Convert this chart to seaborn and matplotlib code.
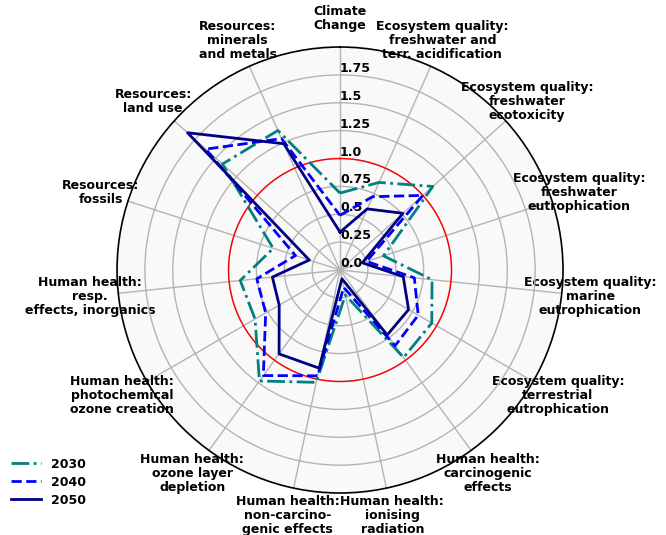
import numpy as np
import pandas as pd
import matplotlib
matplotlib.use("Agg")
import matplotlib.pyplot as plt
import seaborn as sns

# Impact categories, clockwise from the top
categories = [
    "Climate\nChange",
    "Ecosystem quality:\nfreshwater and\nterr. acidification",
    "Ecosystem quality:\nfreshwater\necotoxicity",
    "Ecosystem quality:\nfreshwater\neutrophication",
    "Ecosystem quality:\nmarine\neutrophication",
    "Ecosystem quality:\nterrestrial\neutrophication",
    "Human health:\ncarcinogenic\neffects",
    "Human health:\nionising\nradiation",
    "Human health:\nnon-carcino-\ngenic effects",
    "Human health:\nozone layer\ndepletion",
    "Human health:\nphotochemical\nozone creation",
    "Human health:\nresp.\neffects, inorganics",
    "Resources:\nfossils",
    "Resources:\nland use",
    "Resources:\nminerals\nand metals",
]

# Relative impact scores per scenario year
values_2030 = [0.69, 0.86, 1.12, 0.41, 0.83, 0.95, 0.97, 0.23, 1.03, 1.23, 0.88, 0.90, 0.63, 1.42, 1.37]
values_2040 = [0.49, 0.72, 1.00, 0.25, 0.67, 0.81, 0.84, 0.16, 0.97, 1.17, 0.77, 0.75, 0.42, 1.62, 1.29]
values_2050 = [0.34, 0.60, 0.76, 0.21, 0.57, 0.71, 0.72, 0.08, 0.90, 0.93, 0.63, 0.61, 0.29, 1.84, 1.24]

years = ["2030", "2040", "2050"]
series = {"2030": values_2030, "2040": values_2040, "2050": values_2050}

r_ticks = [0.0, 0.25, 0.5, 0.75, 1.0, 1.25, 1.5, 1.75]
r_tick_labels = ["0.0", "0.25", "0.5", "0.75", "1.0", "1.25", "1.5", "1.75"]
r_max = 2.0
reference_level = 1.0

palette = {"2030": "teal", "2040": "blue", "2050": "navy"}
dash_styles = {"2030": (6.4, 1.6, 1.0, 1.6), "2040": (3.7, 1.6), "2050": ""}

# Long-form table with each polygon closed back on its first category
n = len(categories)
angles = np.linspace(0, 2 * np.pi, n, endpoint=False)
rows = []
for year in years:
    vals = series[year]
    for a, v in zip(angles, vals):
        rows.append({"theta": a, "score": v, "year": year})
    rows.append({"theta": 2 * np.pi, "score": vals[0], "year": year})
df = pd.DataFrame(rows)

fig = plt.figure(figsize=(6.66, 5.35), dpi=100)
ax = fig.add_axes([0.1757, 0.0785, 0.6697, 0.8336], projection="polar")
ax.set_theta_offset(np.pi / 2)
ax.set_theta_direction(-1)
ax.set_facecolor("#f9f9f9")

# Reference circle at score 1.0
circle_theta = np.linspace(0, 2 * np.pi, 300)
ax.plot(circle_theta, np.full_like(circle_theta, reference_level), color="red", lw=1.0, zorder=2)

sns.lineplot(
    data=df, x="theta", y="score", hue="year", style="year",
    palette=palette, dashes=dash_styles, hue_order=years, style_order=years,
    estimator=None, sort=True, linewidth=2, ax=ax, zorder=3,
)

ax.set_xticks(angles)
ax.set_xticklabels(categories, fontsize=9, fontweight="bold", linespacing=1.1)
ax.tick_params(axis="x", pad=10)
ax.set_ylim(0, r_max)
ax.set_yticks(r_ticks)
ax.set_yticklabels(r_tick_labels, fontsize=9, fontweight="bold")
ax.set_rlabel_position(0)
ax.set_xlabel("")
ax.set_ylabel("")
ax.grid(True, color="#b4b4b4", lw=1.0)
ax.spines["polar"].set_color("black")
ax.spines["polar"].set_linewidth(1.2)

handles, labels = ax.get_legend_handles_labels()
ax.get_legend().remove()
ax.legend(
    handles, labels, loc="lower left", bbox_to_anchor=(0.0, 0.032),
    bbox_transform=fig.transFigure, frameon=False,
    prop={"weight": "bold", "size": 9}, handlelength=2.4, labelspacing=0.4,
)

fig.savefig("out.png", dpi=100)
